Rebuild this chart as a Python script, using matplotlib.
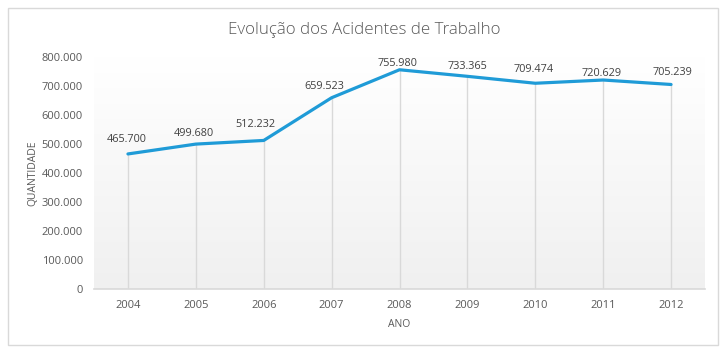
import numpy as np
import matplotlib.pyplot as plt
from matplotlib.colors import LinearSegmentedColormap
from matplotlib.patches import Rectangle

# dados
anos = ['2004', '2005', '2006', '2007', '2008', '2009', '2010', '2011', '2012']
acidentes = [465700, 499680, 512232, 659523, 755980, 733365, 709474, 720629, 705239]
rotulos = ['465.700', '499.680', '512.232', '659.523', '755.980', '733.365', '709.474', '720.629', '705.239']
yticks = [0, 100000, 200000, 300000, 400000, 500000, 600000, 700000, 800000]
ytick_labels = ['0', '100.000', '200.000', '300.000', '400.000', '500.000', '600.000', '700.000', '800.000']

# deslocamento dos rótulos (pixels), como no gráfico original
desloc_x = [-1, -2, -8, -7, -2, 0, -2, -2, 1]
desloc_y = [14, 11, 16, 11, 6, 10, 14, 7, 12]

plt.rcParams['font.family'] = ['Open Sans', 'DejaVu Sans']

fig = plt.figure(figsize=(7.28, 3.52), dpi=100)
ax = fig.add_axes([94/728, 1-289/352, (705-94)/728, (289-57)/352])

x = np.arange(len(anos))
ax.set_xlim(-0.5, len(anos)-0.5)
ax.set_ylim(0, 800000)

# fundo em gradiente (branco em cima, cinza em baixo)
grad = np.linspace(0.0, 1.0, 256).reshape(-1, 1)
cmap = LinearSegmentedColormap.from_list('g', ['#f0f0f0', '#ffffff'])
ax.imshow(grad, extent=(-0.5, len(anos)-0.5, 0, 800000), aspect='auto',
          cmap=cmap, origin='lower', zorder=0)

ax.vlines(x, 0, acidentes, color='#d9d9d9', lw=1, zorder=1)
ax.plot(x, acidentes, color='#1f9bd7', lw=2.3, zorder=3, solid_capstyle='round')

for xi, v, lab, dx, dy in zip(x, acidentes, rotulos, desloc_x, desloc_y):
    ax.annotate(lab, (xi, v), xytext=(dx, dy), textcoords='offset pixels',
                ha='center', va='center', fontsize=7.8, color='#404040')

ax.set_xticks(x)
ax.set_xticklabels(anos, fontsize=8, color='#595959')
ax.set_yticks(yticks)
ax.set_yticklabels(ytick_labels, fontsize=8, color='#595959')
ax.tick_params(length=0, pad=8)
for s in ['top', 'right', 'left']:
    ax.spines[s].set_visible(False)
ax.spines['bottom'].set_color('#d9d9d9')
ax.spines['bottom'].set_linewidth(1.2)

ax.set_xlabel('ANO', fontsize=7.5, color='#595959', labelpad=6)
ax.set_ylabel('QUANTIDADE', fontsize=7.5, color='#595959', labelpad=2)
fig.text(0.5, 1-30/352, 'Evolução dos Acidentes de Trabalho', ha='center', va='center',
         fontsize=12.2, color='#595959', fontweight='light')

fig.patches.append(Rectangle((8/728, 7/352), 710/728, 337/352, transform=fig.transFigure,
                             fill=False, edgecolor='#d9d9d9', lw=1))

plt.savefig('out.png', dpi=100)
